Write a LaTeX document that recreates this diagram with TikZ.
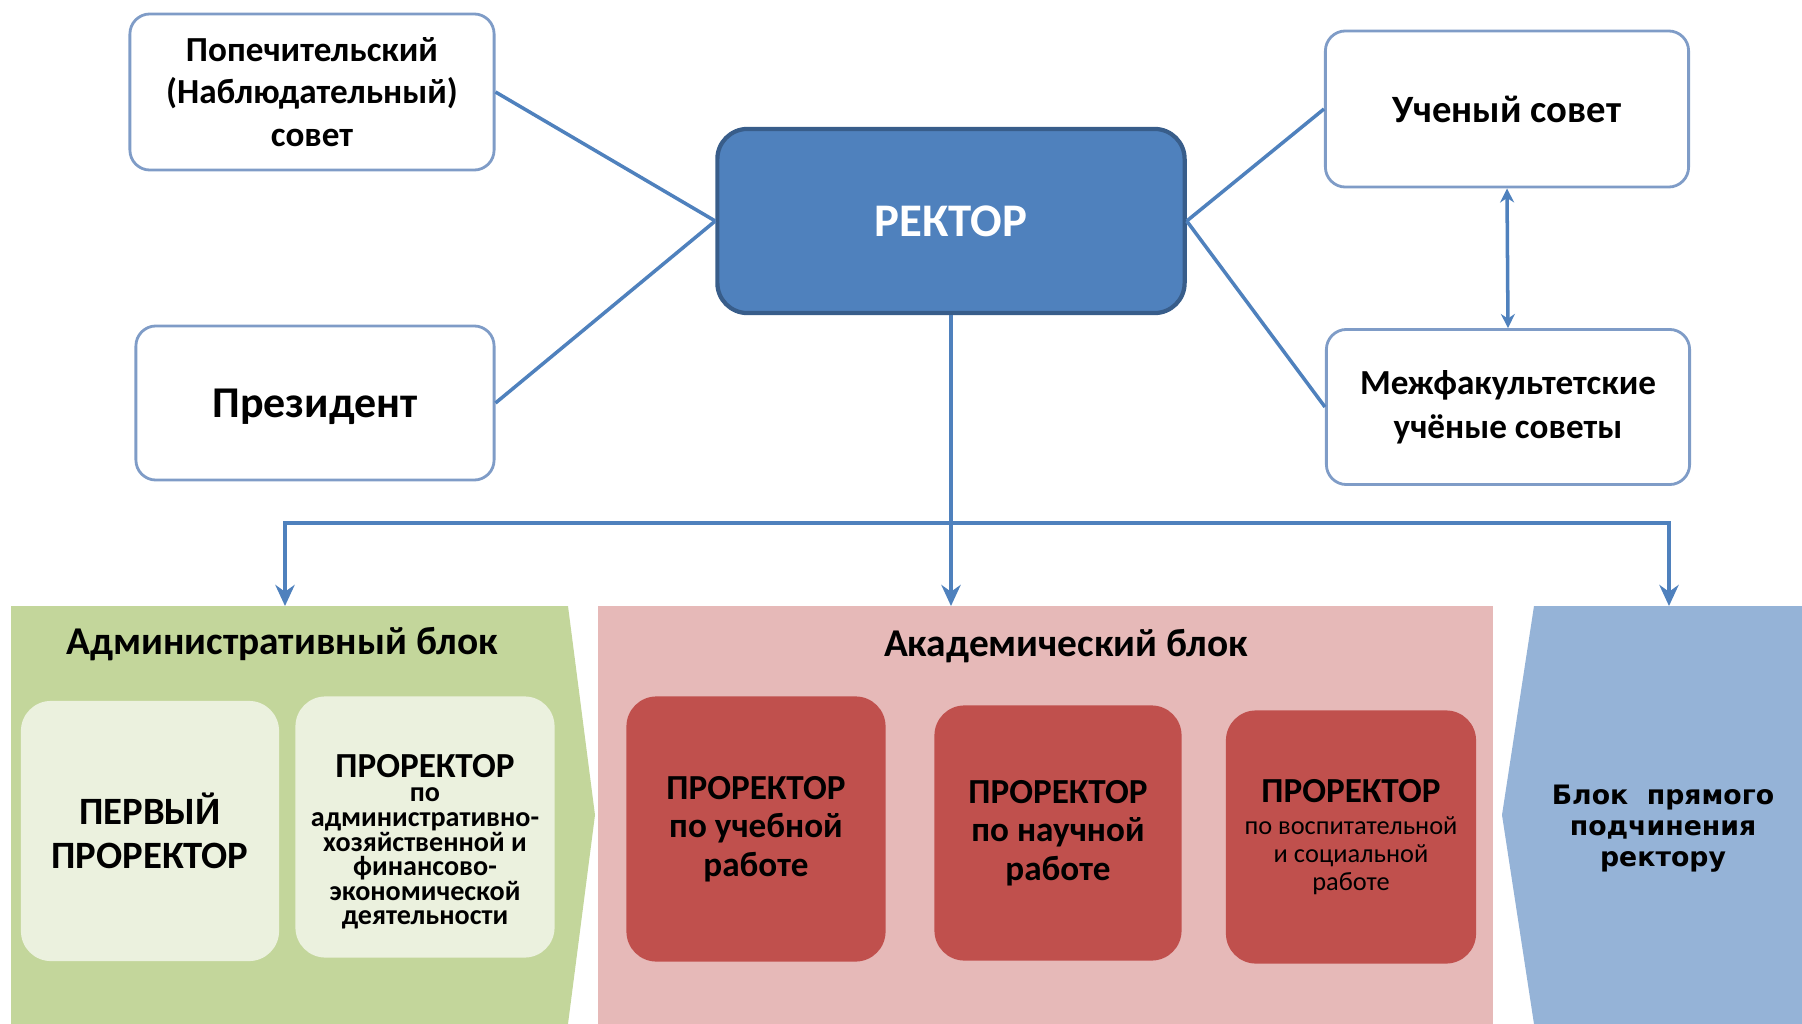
\documentclass[tikz,border=0pt]{standalone}
\usepackage{fontspec}
\setmainfont{Carlito}
\newfontfamily\widefont{DejaVu Sans}
\usetikzlibrary{arrows.meta, positioning}

\definecolor{linkblue}{HTML}{4F81BD}
\definecolor{rectorfill}{HTML}{4F81BD}
\definecolor{rectoredge}{HTML}{385D8A}
\definecolor{boxedge}{HTML}{7F9CC7}
\definecolor{admgreen}{HTML}{C3D69B}
\definecolor{admlight}{HTML}{EBF1DE}
\definecolor{acadpink}{HTML}{E6B9B8}
\definecolor{vpred}{HTML}{C0504D}
\definecolor{directblue}{HTML}{95B3D7}

\newcommand{\headfont}{\bfseries\fontsize{10}{12}\selectfont}

\begin{document}
\begin{tikzpicture}[x=0.01cm, y=-0.01cm,
    council/.style={draw=boxedge, line width=0.8pt, fill=white, rounded corners=0.2cm,
      align=center, inner sep=0pt, font=\bfseries\fontsize{10}{12}\selectfont},
    rectorbox/.style={draw=rectoredge, line width=1.2pt, fill=rectorfill, rounded corners=0.3cm,
      text=white, inner sep=0pt, font=\bfseries\fontsize{13.3}{16}\selectfont},
    admbox/.style={fill=admlight, rounded corners=0.3cm, align=center, inner sep=0pt},
    vpbox/.style={fill=vpred, rounded corners=0.3cm, align=center, inner sep=0pt,
      font=\bfseries\fontsize{10}{11}\selectfont},
    blocktitle/.style={font=\bfseries\fontsize{11.2}{13}\selectfont},
    link/.style={draw=linkblue, line width=1pt},
    arrow/.style={link, -{Stealth[length=6pt, width=5.5pt]}}]

    \useasboundingbox (0,0) rectangle (1802,1024);

    % the three blocks at the bottom
    \fill[admgreen] (11,606) -- (568,606) -- (595,815) -- (568,1024) -- (11,1024) -- cycle;
    \fill[acadpink] (598,606) rectangle (1493,1024);
    \fill[directblue] (1534,606) -- (1802,606) -- (1802,1024) -- (1534,1024) -- (1502,815) -- cycle;
    \coordinate (admtop) at (285,606);
    \coordinate (acadtop) at (951,606);
    \coordinate (directtop) at (1669,606);

    % top part
    \node[rectorbox, minimum width=4.67cm, minimum height=1.84cm] (rector) at (951,221) {РЕКТОР};
    \node[council, minimum width=3.64cm, minimum height=1.56cm] (trustees) at (312,92)
        {Попечительский\\(Наблюдательный)\\совет};
    \node[council, minimum width=3.58cm, minimum height=1.54cm, text depth=0pt,
        font=\bfseries\fontsize{12.5}{14}\selectfont] (president) at (315,403) {Президент};
    \node[council, minimum width=3.63cm, minimum height=1.56cm, font=\bfseries\fontsize{11}{13}\selectfont]
        (senate) at (1507,109) {Ученый совет};
    \node[council, minimum width=3.63cm, minimum height=1.55cm, font=\bfseries\fontsize{10}{12.5}\selectfont]
        (facultycouncils) at (1508,407) {Межфакультетские\\учёные советы};

    \draw[link] (trustees.east) -- (rector.west);
    \draw[link] (president.east) -- (rector.west);
    \draw[link] (rector.east) -- (senate.west);
    \draw[link] (rector.east) -- (facultycouncils.west);
    \draw[link, {Stealth[length=4pt, width=4pt]}-{Stealth[length=4pt, width=4pt]}]
        (senate.south) -- (facultycouncils.north);

    \coordinate (hub) at (rector.south |- 0,523);
    \draw[arrow] (rector.south) -- (acadtop);
    \draw[arrow] (hub) -| (admtop);
    \draw[arrow] (hub) -| (directtop);

    % administrative block
    \node[blocktitle] (admtitle) at (282,644) {Административный блок};
    \node[admbox, minimum width=2.58cm, minimum height=2.60cm, font=\bfseries\fontsize{11}{12.5}\selectfont]
        (firstvp) at (150,831) {ПЕРВЫЙ\\ПРОРЕКТОР};
    \node[admbox, minimum width=2.59cm, minimum height=2.61cm, font=\bfseries\fontsize{8}{7}\selectfont]
        (adminvp) at (425,827) {\rule{0pt}{10pt}\\[-2pt]{\headfont ПРОРЕКТОР}\\[0pt]по\\административно-\\хозяйственной и\\финансово-\\экономической\\деятельности};

    % academic block
    \node[blocktitle] (acadtitle) at (1066,646) {Академический блок};
    \node[vpbox, minimum width=2.59cm, minimum height=2.65cm] (studyvp) at (756,829)
        {ПРОРЕКТОР\\по учебной\\работе};
    \node[vpbox, minimum width=2.47cm, minimum height=2.55cm] (sciencevp) at (1058,833)
        {ПРОРЕКТОР\\по научной\\работе};
    \node[vpbox, minimum width=2.50cm, minimum height=2.53cm, font=\fontsize{7.5}{8}\selectfont]
        (socialvp) at (1351,837) {{\headfont ПРОРЕКТОР}\\[1pt]по воспитательной\\и социальной\\работе};

    % direct subordination block
    \node[align=center, font=\widefont\bfseries\fontsize{7.6}{8.8}\selectfont] (directtitle) at (1663,829)
        {Блок\ \ прямого\\подчинения\\ректору};

\end{tikzpicture}
\end{document}
